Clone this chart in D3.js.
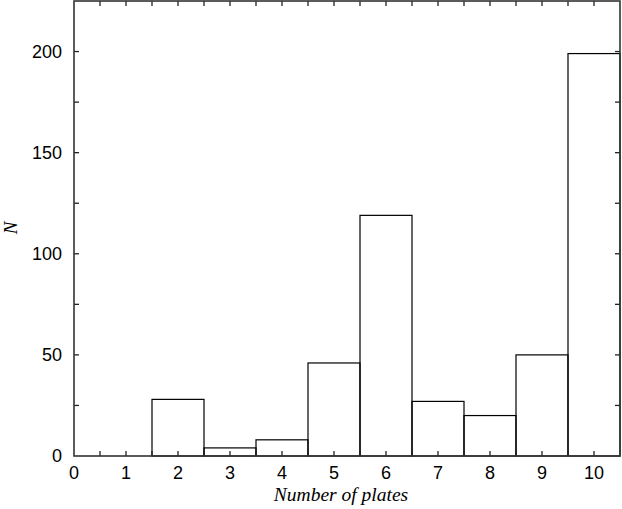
<!DOCTYPE html>
<html><head><meta charset="utf-8">
<script src="https://cdn.jsdelivr.net/npm/d3@7"></script>
<style>body{margin:0;background:#fff}svg{display:block}</style>
</head><body><svg id="c" width="622" height="509"></svg>
<script>
const categories = [0,1,2,3,4,5,6,7,8,9,10];
const counts = [0,0,28,4,8,46,119,27,20,50,199];
const xTickLabels = [0,1,2,3,4,5,6,7,8,9,10];
const yTickLabels = [0,50,100,150,200];

const svg = d3.select("#c");
const L=74, R=620, T=1, B=456;
const x = d3.scaleLinear().domain([0,10.5]).range([L,R]);
const y = d3.scaleLinear().domain([0,225]).range([B,T]);

// bars
svg.append("g").selectAll("rect").data(categories.map((c,i)=>({c,v:counts[i]})).filter(d=>d.v>0))
  .join("rect")
  .attr("x",d=>x(d.c-0.5)).attr("width",d=>x(d.c+0.5)-x(d.c-0.5))
  .attr("y",d=>y(d.v)).attr("height",d=>y(0)-y(d.v))
  .attr("fill","none").attr("stroke","#000").attr("stroke-width",1.2);

// ticks
const g = svg.append("g").attr("stroke","#222").attr("stroke-width",1.3);
const xt = d3.range(0.5,10.5,0.5);
xt.forEach(v=>{
  g.append("line").attr("x1",x(v)).attr("x2",x(v)).attr("y1",B).attr("y2",B-5);
  g.append("line").attr("x1",x(v)).attr("x2",x(v)).attr("y1",T).attr("y2",T+5);
});
const yt = d3.range(25,225,25);
yt.forEach(v=>{
  g.append("line").attr("x1",L).attr("x2",L+5).attr("y1",y(v)).attr("y2",y(v));
  g.append("line").attr("x1",R).attr("x2",R-5).attr("y1",y(v)).attr("y2",y(v));
});
// frame
svg.append("rect").attr("x",L).attr("y",T).attr("width",R-L).attr("height",B-T)
  .attr("fill","none").attr("stroke","#333").attr("stroke-width",1.6);

// labels
const lab = svg.append("g").attr("font-family","Liberation Sans, Arial, sans-serif").attr("font-size",18).attr("fill","#000");
xTickLabels.forEach(v=>{
  lab.append("text").attr("x",x(v)).attr("y",479).attr("text-anchor","middle").text(v);
});
yTickLabels.forEach(v=>{
  lab.append("text").attr("x",62).attr("y",y(v)).attr("dy","0.36em").attr("text-anchor","end").text(v);
});
svg.append("text").attr("x",341).attr("y",501).attr("text-anchor","middle")
  .attr("font-family","Liberation Serif, Times New Roman, serif").attr("font-style","italic").attr("font-size",19.5)
  .text("Number of plates");
svg.append("text").attr("transform","translate(17,228) rotate(-90)").attr("text-anchor","middle")
  .attr("font-family","Liberation Serif, Times New Roman, serif").attr("font-style","italic").attr("font-size",19)
  .text("N");
</script></body></html>
